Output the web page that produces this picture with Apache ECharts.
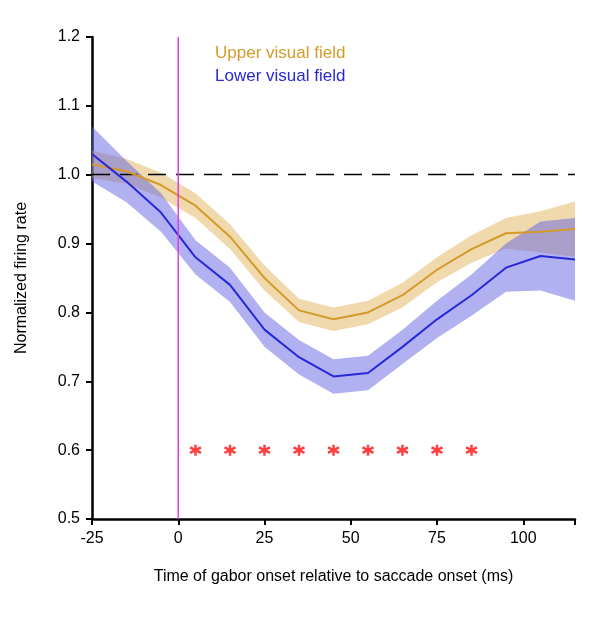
<!DOCTYPE html>
<html><head><meta charset="utf-8">
<script src="https://cdn.jsdelivr.net/npm/echarts@6/dist/echarts.min.js"></script>
<style>body{margin:0}#c{width:593px;height:623px}</style></head>
<body><div id="c"></div>
<script>
var times = [-25,-15,-5,5,15,25,35,45,55,65,75,85,95,105,115];
var upperMean = [1.015,1.005,0.985,0.955,0.91,0.85,0.803,0.79,0.8,0.825,0.862,0.892,0.915,0.917,0.921];
var upperErr  = [0.02,0.018,0.018,0.018,0.018,0.018,0.017,0.017,0.017,0.018,0.018,0.02,0.022,0.03,0.04];
var lowerMean = [1.03,0.99,0.945,0.88,0.84,0.775,0.735,0.707,0.712,0.75,0.79,0.825,0.865,0.882,0.877];
var lowerErr  = [0.04,0.03,0.028,0.025,0.025,0.025,0.025,0.025,0.025,0.025,0.027,0.03,0.035,0.05,0.06];
var sigTimes = [5,15,25,35,45,55,65,75,85];

function pairs(t, v){ return t.map(function(x,i){ return [x, v[i]]; }); }
// error band as one polygon, built through the axis scales
function band(mean, err, color){
  return {type:'custom', silent:true, z:1,
    data:[0],
    renderItem:function(params, api){
      var top = [], bot = [];
      for (var i=0;i<times.length;i++){
        top.push(api.coord([times[i], mean[i]+err[i]]));
        bot.unshift(api.coord([times[i], mean[i]-err[i]]));
      }
      return {type:'polygon', shape:{points:top.concat(bot)}, style:{fill:color}};
    }};
}
var chart = echarts.init(document.getElementById('c'));
var series = [
  band(upperMean, upperErr, 'rgba(225,180,90,0.5)'),
  band(lowerMean, lowerErr, 'rgba(100,100,230,0.5)'),
  {type:'line', name:'Upper visual field', symbol:'none', data:pairs(times, upperMean),
   lineStyle:{color:'#d49a2a', width:2}, itemStyle:{color:'#d49a2a'}, z:5},
  {type:'line', name:'Lower visual field', symbol:'none', data:pairs(times, lowerMean),
   lineStyle:{color:'#2828d8', width:2}, itemStyle:{color:'#2828d8'}, z:5,
   markLine:{silent:true, symbol:'none', label:{show:false},
     data:[[{coord:[-25,1.0]},{coord:[115,1.0]}]],
     lineStyle:{color:'#000', type:[18,10], width:1.3}}},
  {type:'line', symbol:'none', data:[[0,0.5],[0,1.2]], lineStyle:{color:'#e040e0', width:1.5}, z:6},
  {type:'scatter', symbol:'path://M0,-10L0,10M-9,-5L9,5M-9,5L9,-5', symbolSize:11,
   itemStyle:{color:'none', borderColor:'#ff1010', borderWidth:2.5},
   data:sigTimes.map(function(t){return [t,0.6];}), z:6}
];
chart.setOption({
  animation:false,
  grid:{left:92, right:18, top:37, bottom:104},
  legend:{orient:'vertical', left:205, top:40, itemWidth:0, itemHeight:0, itemGap:6, icon:'none',
    data:[{name:'Upper visual field', textStyle:{color:'#d49a2a'}},
          {name:'Lower visual field', textStyle:{color:'#2828d8'}}],
    textStyle:{fontSize:17, fontFamily:'Liberation Sans'}},
  xAxis:{type:'value', min:-25, max:115, interval:25,
    axisLine:{onZero:false, lineStyle:{color:'#000', width:2.5}},
    axisTick:{length:6, lineStyle:{width:2}},
    splitLine:{show:false},
    axisLabel:{color:'#000', fontSize:16, fontFamily:'Liberation Sans', margin:12,
      formatter:function(v){return v>100?'':v;}},
    name:'Time of gabor onset relative to saccade onset (ms)', nameLocation:'middle', nameGap:50,
    nameTextStyle:{color:'#000', fontSize:16, fontFamily:'Liberation Sans'}},
  yAxis:{type:'value', min:0.5, max:1.2, interval:0.1,
    axisLine:{show:true, onZero:false, lineStyle:{color:'#000', width:2.5}},
    axisTick:{show:true, length:6, lineStyle:{width:2}},
    splitLine:{show:false},
    axisLabel:{color:'#000', fontSize:16, fontFamily:'Liberation Sans', margin:12,
      formatter:function(v){return v.toFixed(1);}},
    name:'Normalized firing rate', nameLocation:'middle', nameGap:62,
    nameTextStyle:{color:'#000', fontSize:16, fontFamily:'Liberation Sans'}},
  series:series
});
</script></body></html>
